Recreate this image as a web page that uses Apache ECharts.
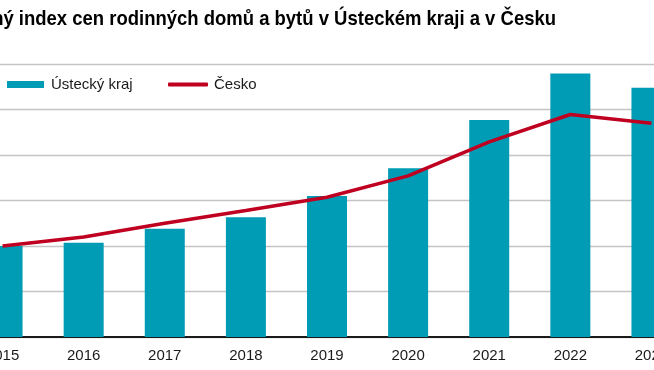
<!DOCTYPE html>
<html>
<head>
<meta charset="utf-8">
<script src="https://cdn.jsdelivr.net/npm/echarts@6/dist/echarts.min.js"></script>
<style>
html,body{margin:0;padding:0;background:#fff;overflow:hidden;width:654px;height:370px;position:relative;}
#chart{position:absolute;left:-38px;top:0;width:730px;height:370px;}
</style>
</head>
<body>
<div id="chart"></div>
<script>
const titleText = 'Souhrnný index cen rodinných domů a bytů v Ústeckém kraji a v Česku';
const years = ['2015','2016','2017','2018','2019','2020','2021','2022','2023'];
const usteckyKraj = [100, 103.5, 119, 131.5, 155, 185.5, 238.5, 289.5, 274];
const cesko = [100, 110, 125, 139, 153.5, 177, 214.5, 244.5, 235];
const seriesNames = ['Ústecký kraj', 'Česko'];

const OFF = 38; // the page shows a window of a wider chart
const chart = echarts.init(document.getElementById('chart'), null, {renderer: 'canvas'});
const font = 'Liberation Sans, Arial, sans-serif';
chart.setOption({
  animation: false,
  backgroundColor: '#ffffff',
  graphic: [{
    type: 'text',
    x: 556 + OFF,
    y: 9,
    scaleX: 0.88,
    style: {
      x: 0, y: 0,
      text: titleText,
      align: 'right',
      verticalAlign: 'top',
      font: 'bold 21px "Liberation Sans", Arial, sans-serif',
      fill: '#000000'
    }
  }],
  legend: [{
    left: 7 + OFF,
    top: 77,
    itemWidth: 37,
    itemHeight: 7,
    padding: 0,
    data: [{name: seriesNames[0], icon: 'rect'}],
    textStyle: {fontFamily: font, fontSize: 15, color: '#1a1a1a', padding: [0,0,0,2]}
  }, {
    left: 168 + OFF,
    top: 77,
    itemWidth: 40,
    itemHeight: 4,
    padding: 0,
    data: [{name: seriesNames[1], icon: 'roundRect'}],
    textStyle: {fontFamily: font, fontSize: 15, color: '#1a1a1a', padding: [0,0,0,1]}
  }],
  grid: {left: 0, right: 0, top: 64, bottom: 33, containLabel: false},
  xAxis: {
    type: 'category',
    data: years,
    boundaryGap: true,
    axisLine: {show: true, lineStyle: {color: '#1a1a1a', width: 2}},
    axisTick: {show: false},
    axisLabel: {fontFamily: font, fontSize: 15, color: '#1a1a1a', margin: 11}
  },
  yAxis: {
    type: 'value',
    min: 0, max: 300, interval: 50,
    axisLabel: {show: false},
    axisLine: {show: false},
    axisTick: {show: false},
    splitLine: {lineStyle: {color: '#c4c4c4', width: 1.3}}
  },
  series: [{
    name: seriesNames[0],
    type: 'bar',
    data: usteckyKraj,
    barWidth: 40,
    itemStyle: {color: '#009bb4'},
    z: 2
  }, {
    name: seriesNames[1],
    type: 'line',
    data: cesko,
    smooth: false,
    showSymbol: false,
    symbol: 'none',
    lineStyle: {color: '#c00020', width: 3.5},
    itemStyle: {color: '#c00020'},
    z: 3
  }]
});
</script>
</body>
</html>
